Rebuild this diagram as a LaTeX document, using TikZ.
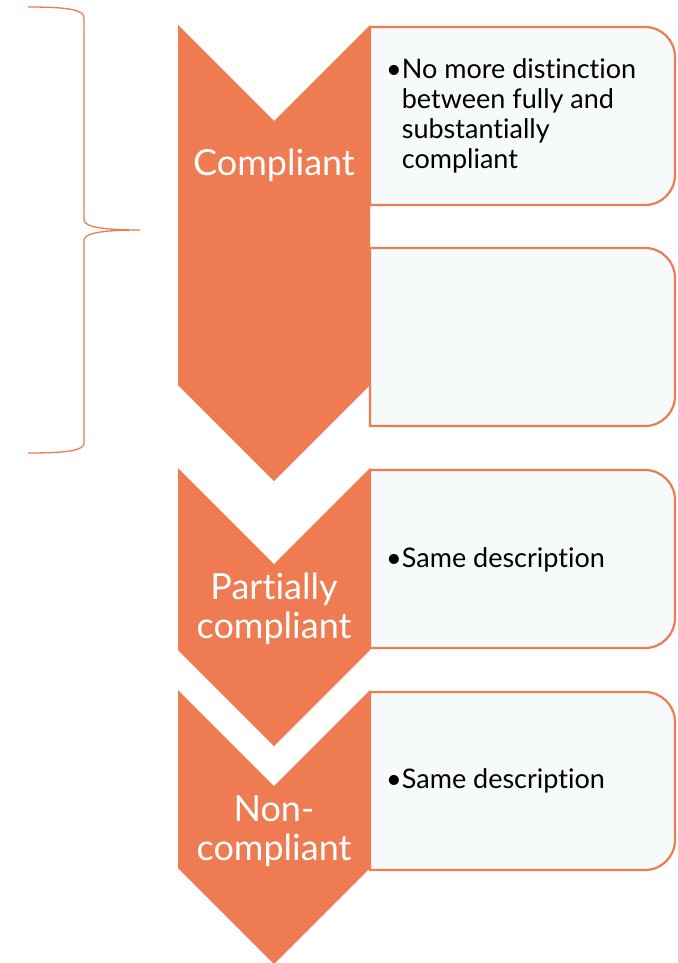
\documentclass[tikz,border=0pt]{standalone}
\usepackage{fontspec}
\setmainfont{Lato}[Ligatures=NoCommon]
\definecolor{chevronorange}{HTML}{EE7B51}
\definecolor{descfill}{HTML}{F6FAFB}
\tikzset{
  chevron/.style={fill=chevronorange},
  descbox/.style={draw=chevronorange, fill=descfill, line width=2.2pt},
  levellabel/.style={white, inner sep=0pt, align=center, font=\fontsize{36}{39}\selectfont},
  desctext/.style={black, inner sep=0pt, font=\fontsize{27}{30}\selectfont},
  bracket/.style={draw=chevronorange, line width=1.3pt}
}

\begin{document}
\begin{tikzpicture}[x=1pt, y=-1pt]
  \useasboundingbox (0,0) rectangle (677,963);

  % Bracket grouping the first level
  \draw[bracket] (28,7) .. controls (70,7) and (84,10) .. (84,18) -- (84,220)
    .. controls (84,228) and (110,230) .. (140,230)
    .. controls (110,230) and (84,232) .. (84,240) -- (84,443)
    .. controls (84,450) and (70,453) .. (28,453);

  % Level chevrons: top corners / bottom corners
  \foreach \ya/\yb in {25/385, 468/650, 690/868} {
    \fill[chevron] (178,\ya) -- (274,\ya+96) -- (370,\ya) -- (370,\yb) -- (274,\yb+96) -- (178,\yb) -- cycle;
  }

  % Description boxes, rounded on the right side only
  \foreach \ya/\yb in {27/205, 248/426, 470/648, 692/870} {
    \draw[descbox] (370,\ya) -- (645,\ya) arc[start angle=-90, end angle=0, radius=30]
      -- (675,\yb-30) arc[start angle=0, end angle=90, radius=30] -- (370,\yb) -- cycle;
  }

  % Level labels
  \node[levellabel, anchor=base] (compliant) at (274,175) {Compliant};
  \node[levellabel] (partial) at (274,609) {Partially\\compliant};
  \node[levellabel] (noncompliant) at (274,831) {Non-\\compliant};

  % Descriptions
  \node[desctext, anchor=base west] (descfull) at (386,79) {\begin{tabular}[t]{@{}l@{\hspace{0pt}}l@{}}
      •&No more distinction\\
       &between fully and\\
       &substantially\\
       &compliant
    \end{tabular}};
  \node[desctext, anchor=base west] (descpartial) at (386,567) {•Same description};
  \node[desctext, anchor=base west] (descnon) at (386,788) {•Same description};
\end{tikzpicture}
\end{document}
